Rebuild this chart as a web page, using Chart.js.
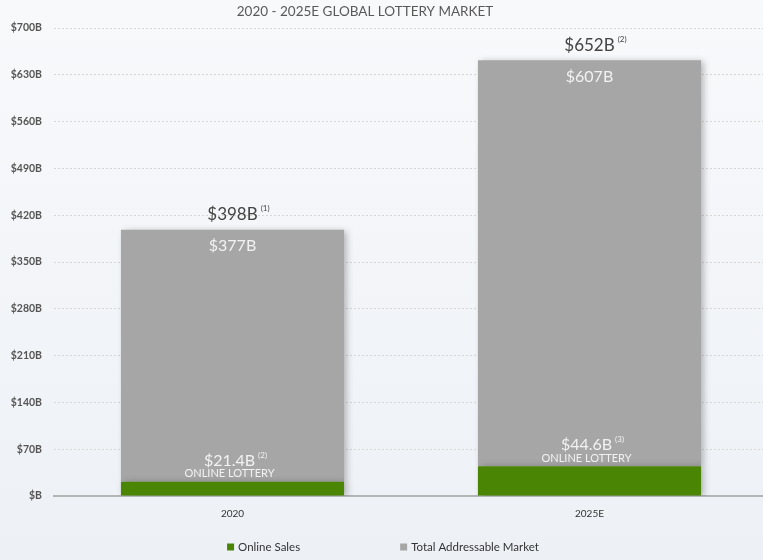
<!DOCTYPE html>
<html>
<head>
<meta charset="utf-8">
<script src="https://cdn.jsdelivr.net/npm/chart.js@4"></script>
<style>
  html, body { margin: 0; padding: 0; background: #f4f6f9; overflow: hidden; }
  #wrap { width: 768px; height: 560px; }
</style>
</head>
<body>
<div id="wrap"><canvas id="lotteryChart" width="768" height="560"></canvas></div>
<script>
// --- Data ---
const categories = ['2020', '2025E'];
const onlineSales = [21.4, 44.6];
const totalAddressable = [377, 607];
const totalLabels = ['$398B', '$652B'];
const totalNotes = ['(1)', '(2)'];
const tamLabels = ['$377B', '$607B'];
const onlineLabels = ['$21.4B', '$44.6B'];
const onlineNotes = ['(2)', '(3)'];
const yMax = 700;
const yStep = 70;

const colors = {
    green: '#4a8504',
    gray: '#a6a6a6',
    text: '#444444',
    light: '#f2f2f2'
};
const FONT = 'Lato, "Open Sans", sans-serif';

// background gradient + shadow on the bars
const decorPlugin = {
    id: 'decor',
    beforeDraw(chart) {
        const { ctx, width, height } = chart;
        const g = ctx.createLinearGradient(0, 0, 0, height);
        g.addColorStop(0, '#f8f9fb');
        g.addColorStop(1, '#edf1f6');
        ctx.save();
        ctx.fillStyle = g;
        ctx.fillRect(0, 0, width, height);
        ctx.restore();
    },
    beforeDatasetsDraw(chart) {
        const ctx = chart.ctx;
        ctx.save();
        ctx.shadowColor = 'rgba(0,0,0,0.28)';
        ctx.shadowBlur = 7;
        ctx.shadowOffsetX = 3;
        ctx.shadowOffsetY = 1;
    },
    afterDatasetsDraw(chart) {
        chart.ctx.restore();
    }
};

// text on and above the bars, title and legend
const labelPlugin = {
    id: 'labels',
    afterDraw(chart) {
        const { ctx } = chart;
        const greenMeta = chart.getDatasetMeta(0);
        const grayMeta = chart.getDatasetMeta(1);
        ctx.save();
        ctx.textBaseline = 'middle';

        const withNote = (text, note, x, y, size, color, noteSize) => {
            ctx.font = size + 'px ' + FONT;
            const w = ctx.measureText(text).width;
            ctx.fillStyle = color;
            ctx.textAlign = 'center';
            ctx.fillText(text, x, y);
            ctx.font = noteSize + 'px ' + FONT;
            ctx.textAlign = 'left';
            ctx.fillText(note, x + w / 2 + 3, y - size * 0.35);
        };

        categories.forEach((c, i) => {
            const top = grayMeta.data[i];
            const green = greenMeta.data[i];
            const x = top.x;
            withNote(totalLabels[i], totalNotes[i], x, top.y - 15, 17, colors.text, 8);
            ctx.font = '16px ' + FONT;
            ctx.textAlign = 'center';
            ctx.fillStyle = colors.light;
            ctx.fillText(tamLabels[i], x, top.y + 16);
            withNote(onlineLabels[i], onlineNotes[i], x - 3, green.y - 21, 16, colors.light, 8);
            ctx.font = '11px ' + FONT;
            ctx.textAlign = 'center';
            ctx.fillStyle = colors.light;
            ctx.fillText('ONLINE LOTTERY', x - 3, green.y - 8);
        });

        // title
        ctx.font = '13.5px ' + FONT;
        ctx.fillStyle = '#595959';
        ctx.textAlign = 'center';
        ctx.fillText('2020 - 2025E GLOBAL LOTTERY MARKET', 365, 12);

        // legend
        ctx.font = '11.5px ' + FONT;
        const items = chart.data.datasets.map(d => ({ text: d.label, color: d.backgroundColor }));
        const gap = 100;
        const widths = items.map(it => 11 + ctx.measureText(it.text).width);
        const totalW = widths.reduce((a, b) => a + b, 0) + gap * (items.length - 1);
        let lx = 383 - totalW / 2;
        const ly = 547;
        items.forEach((it, i) => {
            ctx.fillStyle = it.color;
            ctx.fillRect(lx, ly - 3.5, 7, 7);
            ctx.fillStyle = '#333333';
            ctx.textAlign = 'left';
            ctx.fillText(it.text, lx + 11, ly);
            lx += widths[i] + gap;
        });
        ctx.restore();
    }
};

new Chart(document.getElementById('lotteryChart'), {
    type: 'bar',
    data: {
        labels: categories,
        datasets: [
            { label: 'Online Sales', data: onlineSales, backgroundColor: colors.green, barPercentage: 0.625, categoryPercentage: 1 },
            { label: 'Total Addressable Market', data: totalAddressable, backgroundColor: colors.gray, barPercentage: 0.625, categoryPercentage: 1 }
        ]
    },
    options: {
        responsive: false,
        animation: false,
        devicePixelRatio: 1,
        layout: { padding: { top: 28, bottom: 28, left: 0, right: 0 } },
        plugins: {
            legend: { display: false },
            title: { display: false },
            tooltip: { enabled: false }
        },
        scales: {
            x: {
                stacked: true,
                grid: { display: false, drawTicks: false },
                border: { color: '#b5b5b5', width: 2 },
                ticks: { color: '#333333', font: { family: FONT, size: 10 }, padding: 12 }
            },
            y: {
                stacked: true,
                min: 0,
                max: yMax,
                afterFit(scale) { scale.width = 54; },
                grid: { color: '#d6d6d6', lineWidth: 1, drawTicks: false },
                border: { display: false, dash: [2, 2] },
                ticks: {
                    stepSize: yStep,
                    color: '#555555',
                    padding: 12,
                    font: { family: FONT, size: 10.5, weight: 'bold' },
                    callback: v => v === 0 ? '$B' : '$' + v + 'B'
                }
            }
        }
    },
    plugins: [decorPlugin, labelPlugin]
});
</script>
</body>
</html>
